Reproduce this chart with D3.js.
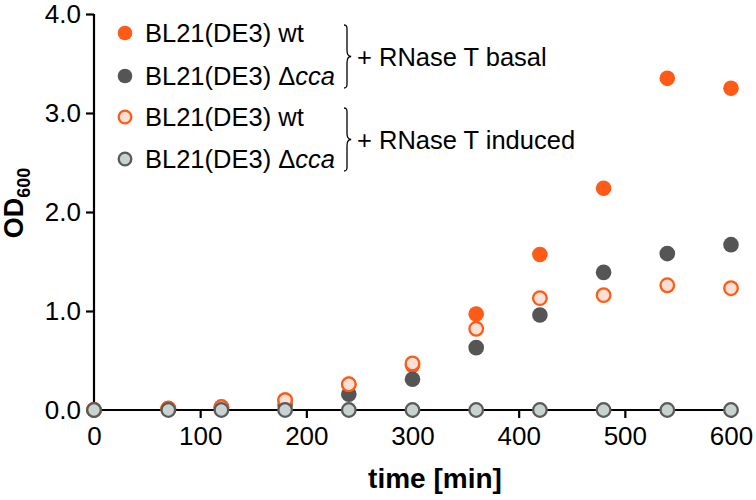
<!DOCTYPE html>
<html><head><meta charset="utf-8">
<script src="https://cdn.jsdelivr.net/npm/d3@7"></script>
<style>
body{margin:0;background:#fff;}
svg{display:block;font-family:"Liberation Sans",Arial,Helvetica,sans-serif;}
</style></head>
<body><svg id="c" width="756" height="500"></svg>
<script>
const times = [0, 70, 120, 180, 240, 300, 360, 420, 480, 540, 600];
const wtBasal = [0, 0.015, 0.03, 0.10, 0.26, 0.45, 0.97, 1.57, 2.24, 3.35, 3.25];
const ccaBasal = [0, 0.01, 0.02, 0.05, 0.16, 0.31, 0.63, 0.96, 1.39, 1.58, 1.67];
const wtInduced = [0, 0.015, 0.03, 0.10, 0.26, 0.47, 0.82, 1.13, 1.16, 1.26, 1.23];
const ccaInduced = [0, 0, 0, 0, 0, 0, 0, 0, 0, 0, 0];
const xTicks = [0, 100, 200, 300, 400, 500, 600];
const yTicks = [0, 1, 2, 3, 4];
const seriesNames = ["wt basal", "cca basal", "wt induced", "cca induced"];
const groupLabels = ["+ RNase T basal", "+ RNase T induced"];

const styles = [
  {fill:"#ff5b16", stroke:"none", sw:0, r:7.8},
  {fill:"#555555", stroke:"none", sw:0, r:7.8},
  {fill:"#fde0d6", stroke:"#ff5b16", sw:2.3, r:6.8},
  {fill:"#c8d2d1", stroke:"#5a5a5a", sw:2.3, r:6.8}
];
const seriesData = [wtBasal, ccaBasal, wtInduced, ccaInduced];

const svg = d3.select("#c");
const x = d3.scaleLinear().domain([0, 600]).range([94, 731]);
const y = d3.scaleLinear().domain([0, 4]).range([410, 14]);

// axes
const xAxis = svg.append("g").attr("transform", "translate(0,410)")
  .call(d3.axisBottom(x).tickValues(xTicks).tickSize(8).tickPadding(9).tickFormat(d3.format("d")));
xAxis.select(".domain").attr("stroke", "#000").attr("stroke-width", 2.2).attr("d", "M94,0H731");
xAxis.selectAll(".tick line").attr("stroke", "#000").attr("stroke-width", 2.2);
xAxis.selectAll(".tick text").attr("font-size", 26).attr("fill", "#000")
  .attr("font-family", "Liberation Sans, Arial, sans-serif");

const yAxis = svg.append("g").attr("transform", "translate(94,0)")
  .call(d3.axisLeft(y).tickValues(yTicks).tickSize(8).tickPadding(5).tickFormat(d3.format(".1f")));
yAxis.select(".domain").attr("stroke", "#000").attr("stroke-width", 2.2).attr("d", "M0,410V14");
yAxis.selectAll(".tick line").attr("stroke", "#000").attr("stroke-width", 2.2);
yAxis.selectAll(".tick text").attr("font-size", 26).attr("fill", "#000")
  .attr("font-family", "Liberation Sans, Arial, sans-serif");

// axis titles
svg.append("text").attr("x", 435).attr("y", 488).attr("text-anchor", "middle")
  .attr("font-size", 28).attr("font-weight", "bold").text("time [min]");
const yt = svg.append("text").attr("transform", "translate(23,203) rotate(-90)")
  .attr("text-anchor", "middle").attr("font-size", 27).attr("font-weight", "bold");
yt.append("tspan").text("OD");
yt.append("tspan").attr("font-size", 18).attr("dy", 7).text("600");

// data points
seriesData.forEach((vals, i) => {
  const st = styles[i];
  svg.append("g").selectAll("circle").data(times.map((t, j) => [t, vals[j]]))
    .join("circle")
    .attr("cx", d => x(d[0])).attr("cy", d => y(d[1])).attr("r", st.r)
    .attr("fill", st.fill).attr("stroke", st.stroke).attr("stroke-width", st.sw);
});

// legend
const legRows = [33, 76, 117, 159];
const leg = svg.append("g");
seriesNames.forEach((n, i) => {
  const st = styles[i];
  leg.append("circle").attr("cx", 125).attr("cy", legRows[i]).attr("r", st.r - 0.5)
    .attr("fill", st.fill).attr("stroke", st.stroke).attr("stroke-width", st.sw);
  const t = leg.append("text").attr("x", 145).attr("y", legRows[i] + 9).attr("font-size", 25.5);
  if (i % 2 === 0) {
    t.text("BL21(DE3) wt");
  } else {
    t.append("tspan").text("BL21(DE3) \u0394");
    t.append("tspan").attr("font-style", "italic").text("cca");
  }
});

function brace(xb, y0, y1) {
  const m = (y0 + y1) / 2, w = 6;
  return `M${xb},${y0} C${xb+w*0.6},${y0} ${xb+w*0.5},${y0+3} ${xb+w*0.5},${y0+8}` +
    ` L${xb+w*0.5},${m-6} C${xb+w*0.5},${m-2} ${xb+w*0.7},${m} ${xb+w*1.2},${m}` +
    ` C${xb+w*0.7},${m} ${xb+w*0.5},${m+2} ${xb+w*0.5},${m+6}` +
    ` L${xb+w*0.5},${y1-8} C${xb+w*0.5},${y1-3} ${xb+w*0.6},${y1} ${xb},${y1}`;
}
[[25, 88], [108, 171]].forEach((b, i) => {
  leg.append("path").attr("d", brace(344, b[0], b[1])).attr("fill", "none")
    .attr("stroke", "#000").attr("stroke-width", 1.3);
  leg.append("text").attr("x", 357).attr("y", (b[0] + b[1]) / 2 + 9).attr("font-size", 25.5)
    .text(groupLabels[i]);
});
</script></body></html>
